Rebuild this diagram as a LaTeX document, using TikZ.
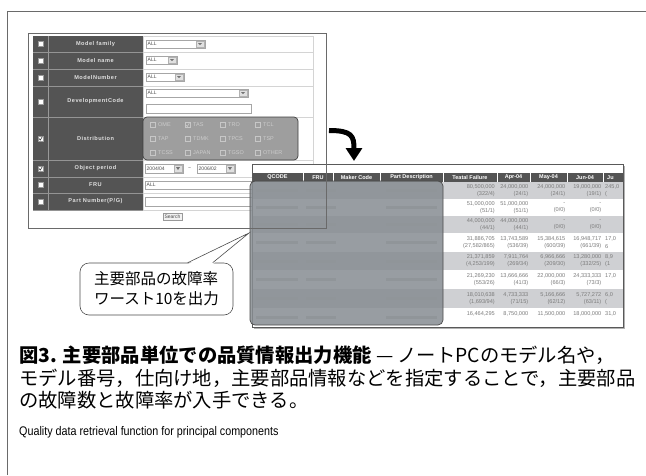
\documentclass[tikz,border=0pt]{standalone}
\usepackage{fontspec}
\setsansfont{Liberation Sans}
\newfontfamily\jgothic{Noto Sans CJK JP}
\newfontfamily\formfont[LetterSpace=9]{Liberation Sans}
\usetikzlibrary{positioning,arrows.meta}
\definecolor{formdark}{HTML}{545454}
\definecolor{formline}{HTML}{D4D4D4}
\definecolor{framegray}{HTML}{6A6A6A}
\definecolor{veilgray}{HTML}{878D92}
\definecolor{rowgray}{HTML}{CFD0D3}
\definecolor{celltext}{HTML}{7C7C7C}
\definecolor{distgray}{HTML}{9E9E9E}

% drop-down selector: x1, y1, x2, y2, shown value
\newcommand{\dropsel}[5]{%
  \draw[sel_box] (#1,#2) rectangle (#3,#4);
  \node[sel_text] (sel-#1-#2) at (#1,{(#2+#4)/2}) {#5};
  \draw[sel_btn] ({#3-9},{#2+1}) rectangle ({#3-1},{#4-1});
  \fill[black!55] ({#3-7},{#2+3}) -- ({#3-3},{#2+3}) -- ({#3-5},{#4-3}) -- cycle;
}

\begin{document}
\begin{tikzpicture}[x=1pt,y=-1pt,
    label_cell/.style={font=\formfont\bfseries\fontsize{5.6}{6}\selectfont, text=white!88!black, inner sep=0pt},
    sel_box/.style={draw=black!35, fill=white, line width=0.4pt},
    sel_text/.style={anchor=west, inner sep=1.5pt, font=\sffamily\fontsize{5}{6}\selectfont, text=black!70},
    sel_btn/.style={draw=black!30, fill=black!12, line width=0.3pt},
    tick_box/.style={draw=black!40, fill=white, line width=0.3pt},
    dist_text/.style={anchor=west, inner sep=0pt, font=\sffamily\fontsize{5.5}{6}\selectfont, text=black!20},
    head_text/.style={font=\sffamily\bfseries\fontsize{5.5}{6}\selectfont, text=white, inner sep=0pt},
    cell_text/.style={anchor=east, align=right, inner sep=0pt, font=\sffamily\fontsize{5.6}{7.2}\selectfont, text=celltext},
    callout/.style={rectangle, rounded corners=9pt, draw=black!70, fill=white, line width=0.6pt,
      minimum width=153pt, minimum height=52pt, align=left, font=\jgothic\fontsize{15.5}{20}\selectfont},
    caption_text/.style={anchor=west, inner sep=0pt, font=\jgothic\fontsize{19.3}{22}\selectfont},
    turn_arrow/.style={line width=5pt, -{Triangle[length=13pt,width=16pt]}}]
  \useasboundingbox (0,0) rectangle (646,475);
  % page frame
  \draw[framegray, line width=1pt] (7,475) -- (7,11) -- (646,11);

  % search form - background and label column
  \fill[white] (28,33) rectangle (326,228);
  \fill[formdark] (33,36) rectangle (143,210);
  \draw[formline] (143,36) rectangle (313,210);
  \draw[black!40] (48,36) -- (48,210);
  % search form - rows
  \foreach \ytop/\ybot/\txt/\nm in {36/52/{Model family}/family, 52/69/{Model name}/name,
      69/86/{ModelNumber}/number, 86/117/{DevelopmentCode}/devcode, 117/160/{Distribution}/distrib,
      160/177/{Object period}/period, 177/193/{FRU}/fru, 193/210/{Part Number(P/G)}/partno}{
    \draw[black!42] (33,\ybot) -- (143,\ybot);
    \draw[formline] (143,\ybot) -- (313,\ybot);
    \node[label_cell] (lbl_\nm) at (95.5,{(\ytop+\ybot)/2}) {\txt};
    \draw[tick_box] (38,{(\ytop+\ybot)/2-2.5}) rectangle +(5,5);
  }
  % checked rows
  \foreach \yc in {138.5,168.5}
    \draw[black!75, line width=0.6pt] (39,\yc) -- (40.3,{\yc+1.5}) -- (42.3,{\yc-1.8});
  % search form - fields
  \dropsel{146}{40}{205}{48}{ALL}
  \dropsel{146}{56}{177}{64}{ALL}
  \dropsel{146}{73}{184}{81}{ALL}
  \dropsel{146}{89}{248}{97}{ALL}
  \draw[sel_box] (146,104) rectangle (251,113);
  \dropsel{145}{164}{183}{173}{2004/04}
  \node[sel_text, anchor=center] (period_sep) at (189.5,168.5) {\textasciitilde};
  \dropsel{197}{164}{235}{173}{2006/02}
  \draw[sel_box] (145,181) rectangle (312,189);
  \node[sel_text] (fru_all) at (145,185) {ALL};
  \draw[sel_box] (145,197) rectangle (312,206);
  \node[draw=black!40, fill=black!5, inner sep=1.5pt, font=\sffamily\fontsize{5}{6}\selectfont, text=black!70]
    (search_btn) at (172.5,217) {Search};

  % distribution choices (veiled)
  \draw[fill=distgray, draw=black!75, rounded corners=4pt, line width=0.7pt] (143,117) rectangle (298,160);
  \foreach \yy/\row in {125/{OME,TAS,TRO,TCL}, 139/{TAP,TDMK,TPCS,TSP}, 153/{TCSS,JAPAN,TGSO,OTHER}}{
    \foreach \txt [count=\c] in \row {
      \draw[black!22, line width=0.4pt] ({150+(\c-1)*35},{\yy-2.5}) rectangle +(5,5);
      \node[dist_text] (dist-\txt) at ({158+(\c-1)*35},\yy) {\txt};
    }
  }
  \draw[black!22, line width=0.6pt] (186,125) -- (187.3,126.5) -- (189.3,123);

  % turn arrow from form to result table
  \coordinate (turn_from) at (329,130.5);
  \coordinate (turn_to) at (354,161);
  \draw[turn_arrow] (turn_from) .. controls (352,130.5) and (354,136) .. (turn_to);

  % result table
  \begin{scope}
    \clip (252,164) rectangle (623,327);
    \fill[white] (252,164) rectangle (623,327);
    \fill[formdark] (252,173) rectangle (623,182);
    \foreach \ytop/\ybot in {182/199, 216/233, 252/270, 289/308}
      \fill[rowgray] (252,\ytop) rectangle (623,\ybot);
    \foreach \xs in {303,333,380,443,497,530,567,603}
      \draw[white, line width=0.6pt] (\xs,173) -- (\xs,182);
    \foreach \xc/\txt [count=\k] in {277.5/QCODE, 318/FRU, 356.5/Maker Code, 411.5/Part Description,
        470/Teatal Failure, 513.5/Apr-04, 548.5/May-04, 585/Jun-04}
      \node[head_text] (head\k) at (\xc,177.5) {\txt};
    \node[head_text, anchor=west] (head9) at (607,177.5) {Ju};
    % hidden columns (blurred)
    \foreach \yc in {190.5,207.5,224.5,242.5,261,279.5,298.5,317.5}{
      \fill[black!22] (256,{\yc-1.5}) rectangle (298,{\yc+1.5});
      \fill[black!22] (306,{\yc-1.5}) rectangle (336,{\yc+1.5});
      \fill[black!22] (386,{\yc-1.5}) rectangle (437,{\yc+1.5});
    }
    % failure figures
    \foreach \xr/\txt [count=\c] in {495/{80,500,000\\(322/4)}, 528.5/{24,000,000\\(24/1)},
        565.5/{24,000,000\\(24/1)}, 601.5/{19,000,000\\(19/1)}}
      \node[cell_text] (r1c\c) at (\xr,190.5) {\txt};
    \node[cell_text, anchor=west, align=left] (r1c5) at (605,190.5) {245,0\\(};
    \foreach \xr/\txt [count=\c] in {495/{51,000,000\\(51/1)}, 528.5/{51,000,000\\(51/1)},
        565.5/{-\\(0/0)}, 601.5/{-\\(0/0)}}
      \node[cell_text] (r2c\c) at (\xr,207.5) {\txt};
    \foreach \xr/\txt [count=\c] in {495/{44,000,000\\(44/1)}, 528.5/{44,000,000\\(44/1)},
        565.5/{-\\(0/0)}, 601.5/{-\\(0/0)}}
      \node[cell_text] (r3c\c) at (\xr,224.5) {\txt};
    \foreach \xr/\txt [count=\c] in {495/{31,886,705\\(27,582/865)}, 528.5/{13,743,589\\(536/39)},
        565.5/{15,384,615\\(600/39)}, 601.5/{16,948,717\\(661/39)}}
      \node[cell_text] (r4c\c) at (\xr,242.5) {\txt};
    \node[cell_text, anchor=west, align=left] (r4c5) at (605,242.5) {17,0\\6};
    \foreach \xr/\txt [count=\c] in {495/{21,371,859\\(4,253/199)}, 528.5/{7,911,764\\(269/34)},
        565.5/{6,966,666\\(209/30)}, 601.5/{13,280,000\\(332/25)}}
      \node[cell_text] (r5c\c) at (\xr,261) {\txt};
    \node[cell_text, anchor=west, align=left] (r5c5) at (605,261) {8,9\\(1};
    \foreach \xr/\txt [count=\c] in {495/{21,269,230\\(553/26)}, 528.5/{13,666,666\\(41/3)},
        565.5/{22,000,000\\(66/3)}, 601.5/{24,333,333\\(73/3)}}
      \node[cell_text] (r6c\c) at (\xr,279.5) {\txt};
    \node[cell_text, anchor=west, align=left] (r6c5) at (605,279.5) {17,0\\};
    \foreach \xr/\txt [count=\c] in {495/{18,010,638\\(1,693/94)}, 528.5/{4,733,333\\(71/15)},
        565.5/{5,166,666\\(62/12)}, 601.5/{5,727,272\\(63/11)}}
      \node[cell_text] (r7c\c) at (\xr,298.5) {\txt};
    \node[cell_text, anchor=west, align=left] (r7c5) at (605,298.5) {6,0\\(};
    \foreach \xr/\txt [count=\c] in {495/{16,464,295}, 528.5/{8,750,000}, 565.5/{11,500,000}, 601.5/{18,000,000}}
      \node[cell_text] (r8c\c) at (\xr,313.5) {\txt};
    \node[cell_text, anchor=west] (r8c5) at (605,313.5) {31,0};
  \end{scope}
  \draw[black!30, line width=1.4pt] (624.5,166) -- (624.5,328.5) -- (254,328.5);
  \draw[black!65, line width=0.7pt] (252,164) rectangle (623,327);
  % veil over hidden columns
  \draw[fill=veilgray, fill opacity=0.85, draw=black!70, rounded corners=5pt, line width=0.7pt]
    (250,181) rectangle (443,325);
  % form outline shows through
  \draw[framegray, line width=0.8pt] (28,33) rectangle (326,228);

  % callout
  \node[callout] (worst10) at (156.5,289) {主要部品の故障率\\ワースト10を出力};
  \coordinate (veil_tip) at (249,233);
  \fill[white] ([xshift=108pt,yshift=-1.5pt]worst10.north west) -- (veil_tip)
    -- ([xshift=133pt,yshift=-1.5pt]worst10.north west) -- cycle;
  \draw[black!70, line width=0.6pt] ([xshift=108pt]worst10.north west) -- (veil_tip)
    -- ([xshift=133pt]worst10.north west);

  % caption
  \node[caption_text] (cap1) at (19,355) {{\bfseries 図3. 主要部品単位での品質情報出力機能} — ノートPCのモデル名や，};
  \node[caption_text] (cap2) at (19,378) {モデル番号，仕向け地，主要部品情報などを指定することで，主要部品};
  \node[caption_text] (cap3) at (19,400) {の故障数と故障率が入手できる。};
  \node[anchor=west, inner sep=0pt, font=\sffamily\fontsize{12.5}{14}\selectfont] (cap_en) at (19,432)
    {\scalebox{0.86}[1]{Quality data retrieval function for principal components}};
\end{tikzpicture}
\end{document}
